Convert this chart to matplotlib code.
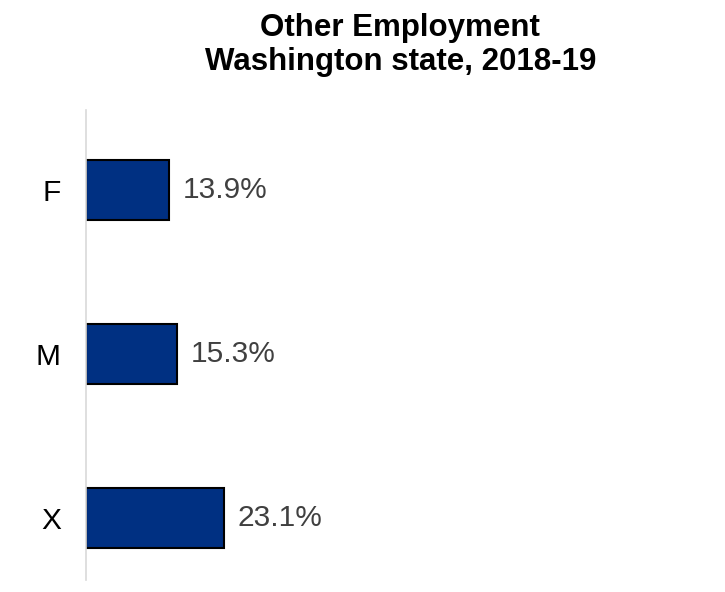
import matplotlib.pyplot as plt

plt.rcParams['font.family'] = ['Liberation Sans', 'DejaVu Sans']

# Share of other employment by gender, Washington 2018-19
genders = ['F', 'M', 'X']
pct = [13.9, 15.3, 23.1]

fig = plt.figure(figsize=(7.25, 5.92), dpi=100)
ax = fig.add_axes([86 / 725, 12 / 592, 597 / 725, 470 / 592])

ypos = list(range(len(genders)))
ax.barh(ypos, pct, height=0.366, color='#003082', edgecolor='black', linewidth=1.5)

for y, v in zip(ypos, pct):
    ax.text(v + 2.3, y, '%.1f%%' % v, va='center', ha='left',
            fontsize=21.5, color='#404040')

ax.set_xlim(0, 100)
ax.set_ylim(2.378, -0.488)
ax.set_yticks(ypos)
ax.set_yticklabels(genders, fontsize=21.5)
ax.tick_params(axis='y', length=0, pad=18)
ax.set_xticks([])

for side in ['top', 'right', 'bottom']:
    ax.spines[side].set_visible(False)
ax.spines['left'].set_color('#d9d9d9')
ax.spines['left'].set_linewidth(1.2)

fig.text(0.552, 0.978, 'Other Employment\nWashington state, 2018-19',
         ha='center', va='top', fontsize=22.5, fontweight='bold',
         linespacing=1.17)

fig.savefig('out.png', dpi=100)
